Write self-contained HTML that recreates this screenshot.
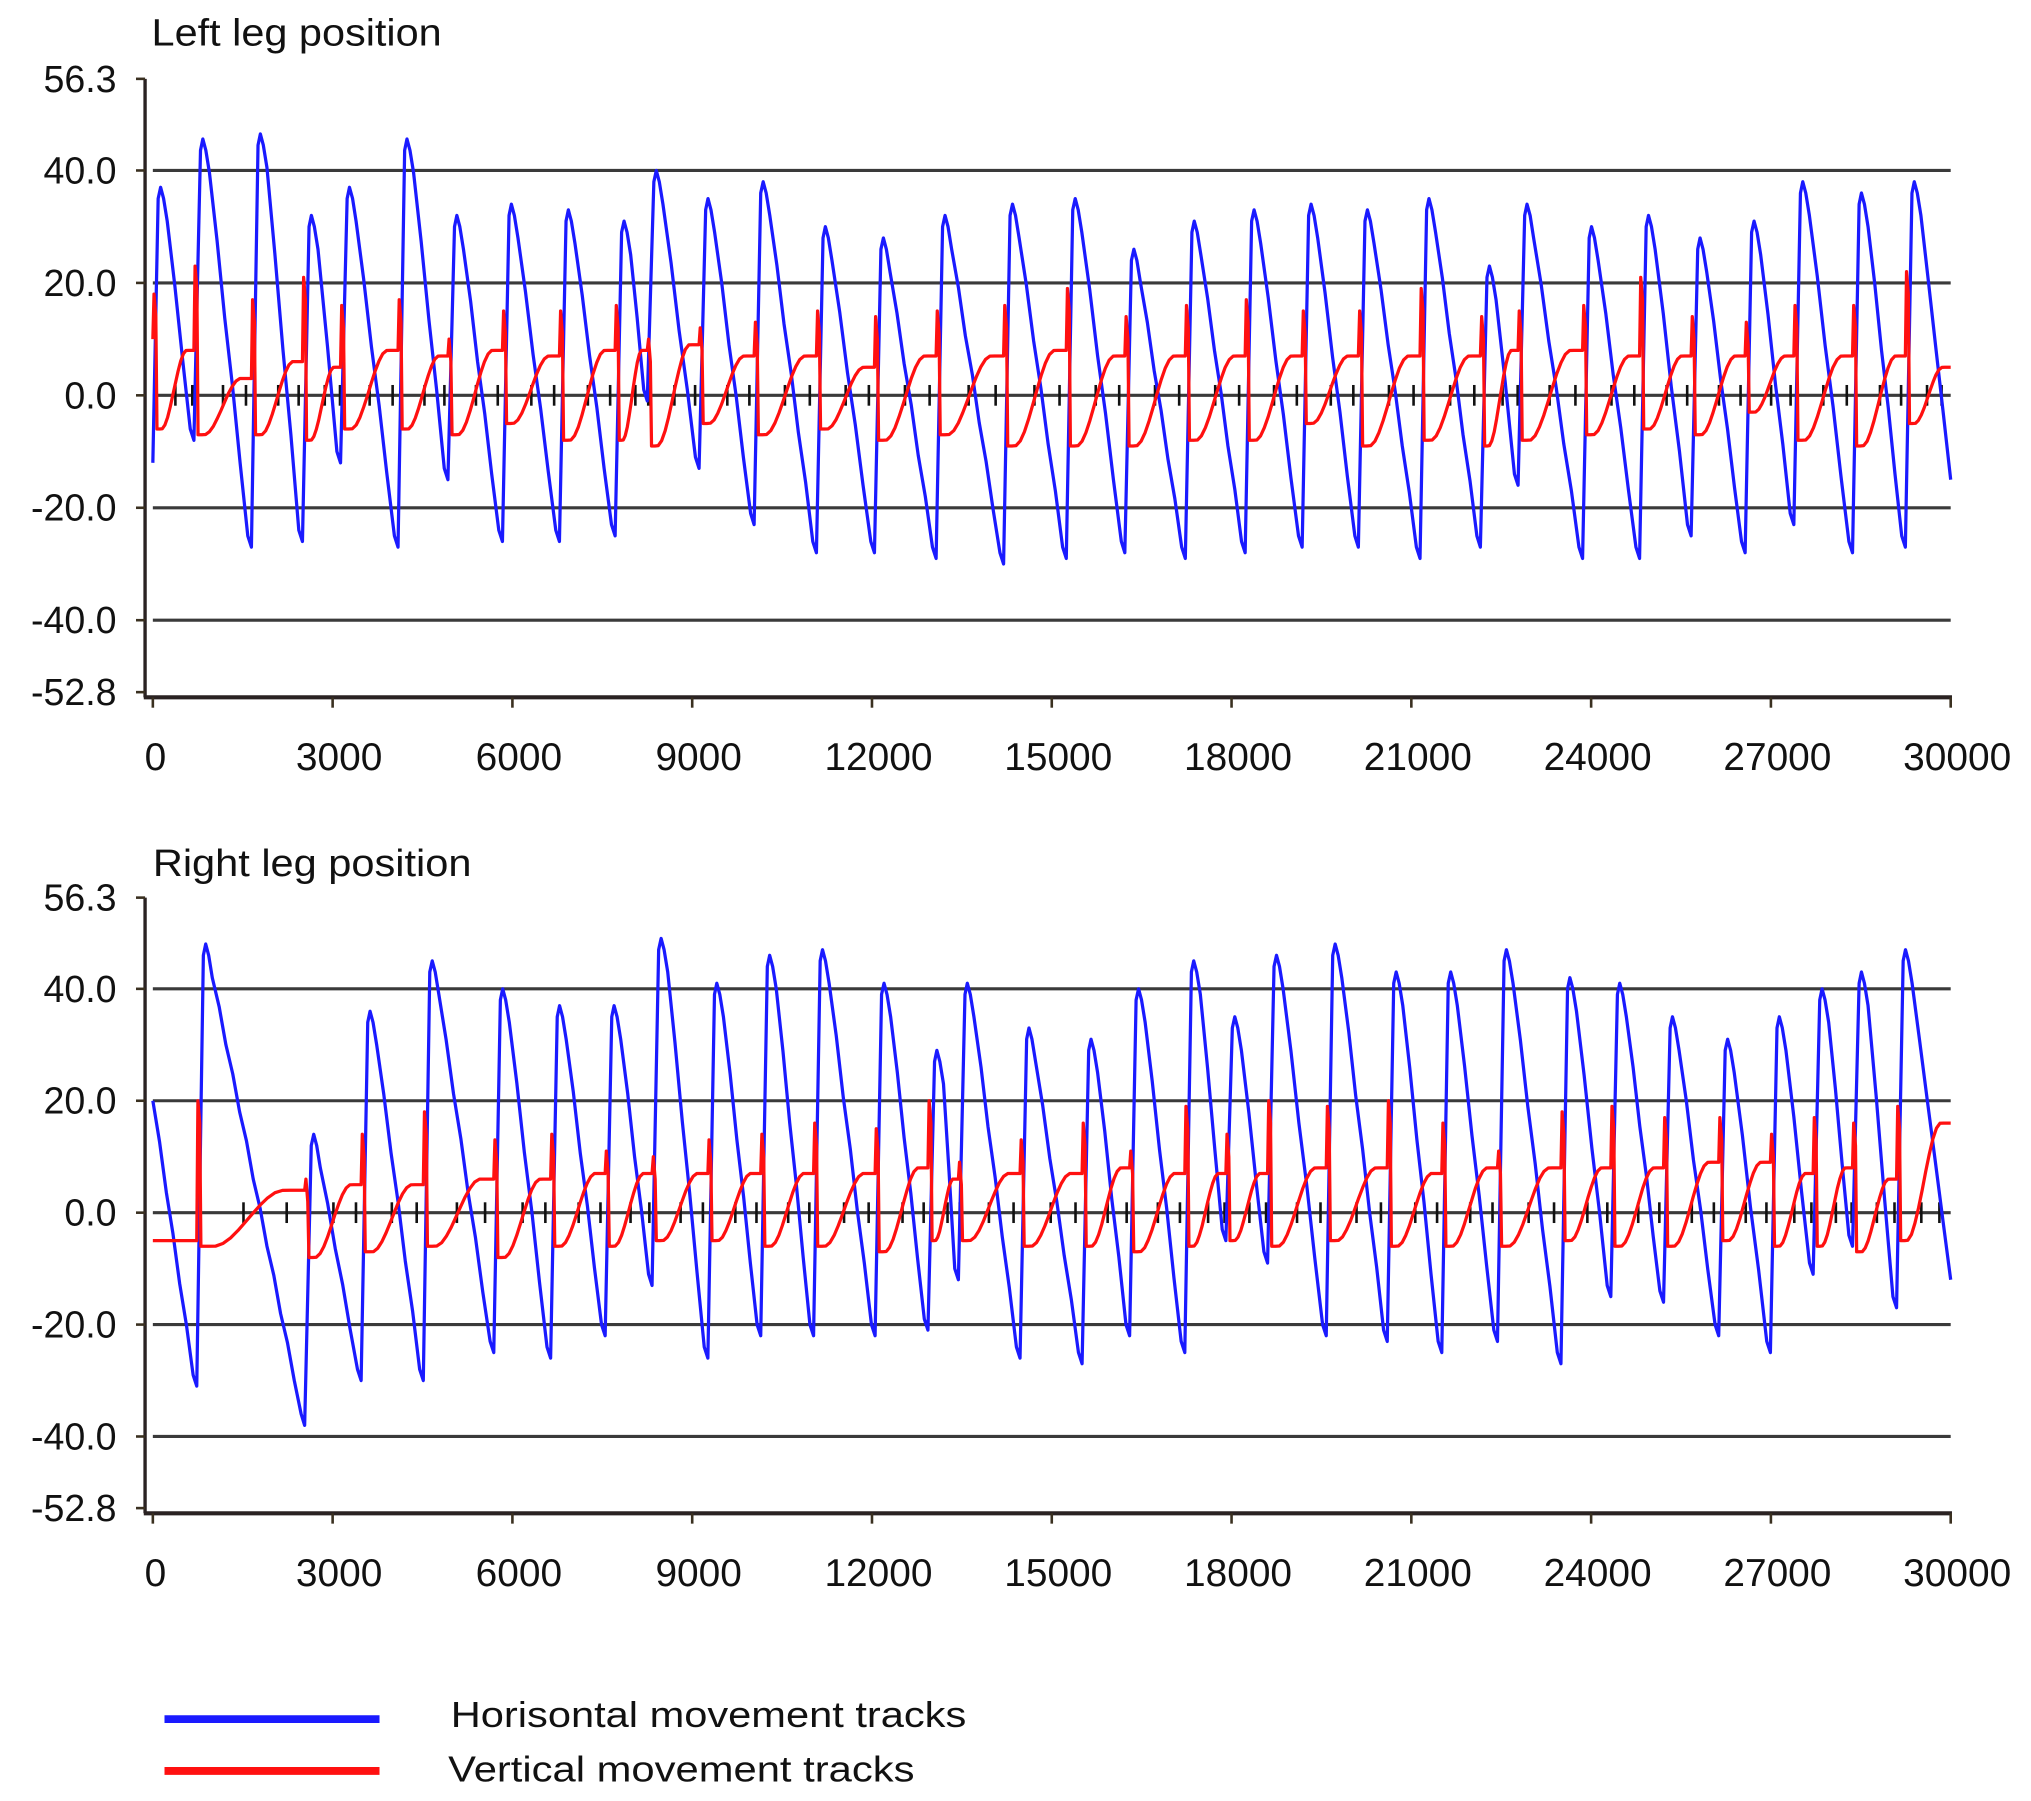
<!DOCTYPE html>
<html><head><meta charset="utf-8"><style>
html,body{margin:0;padding:0;background:#fff;}
svg{display:block;}
text{font-family:"Liberation Sans",Arial,sans-serif;fill:#111;}
</style></head><body>
<svg id="fig" width="2031" height="1801" viewBox="0 0 1568 1390" xmlns="http://www.w3.org/2000/svg">
<g id="legend">
 <line x1="127" y1="1327" x2="293" y2="1327" stroke="#1a1aff" stroke-width="6"/>
 <text x="348" y="1333" font-size="28" textLength="398" lengthAdjust="spacingAndGlyphs">Horisontal movement tracks</text>
 <line x1="127" y1="1367" x2="293" y2="1367" stroke="#ff1010" stroke-width="6"/>
 <text x="346" y="1375" font-size="28" textLength="360" lengthAdjust="spacingAndGlyphs">Vertical movement tracks</text>
</g>
</svg>
<script>
// ---------- data ----------
const yTickValues = [56.3, 40.0, 20.0, 0.0, -20.0, -40.0, -52.8];
const gridValues = [40, 20, 0, -20, -40];
const xTickValues = [0, 3000, 6000, 9000, 12000, 15000, 18000, 21000, 24000, 27000, 30000];

// Left leg
const leftPeakTimes = [129,835,1794,2646,3282,4241,5073,5983,6934,7863,8401,9264,10184,11222,12190,13219,14345,15391,16370,17378,18376,19327,20267,21294,22303,22931,24007,24958,25818,26719,27532,28511,29393];
const leftPeaks = [37,45.6,46.5,32,37,45.6,32,34,33,31,40,35,38,30,28,32,34,35,26,31,33,34,33,35,23,34,30,32,28,31,38,36,38];
const leftTroughs = [-12,-8,-27,-26,-12,-27,-15,-26,-26,-25,-1,-13,-23,-28,-28,-29,-30,-29,-28,-29,-28,-27,-27,-29,-27,-16,-29,-29,-25,-28,-23,-28,-27];
const leftStart = -12;
const leftEnd = -15;
const leftRedSpike = [18,23,17,21,16,17,10,15,15,16,10,12,13,15,14,15,16,19,14,16,17,15,15,19,14,15,16,21,14,13,16,16,22];
const leftRedLow = [-6,-7,-7,-8,-6,-6,-7,-5,-8,-8,-9,-5,-7,-6,-8,-7,-9,-9,-9,-8,-8,-5,-9,-8,-9,-8,-7,-6,-7,-3,-8,-9,-5];
const leftRedHigh = [8,3,6,5,8,7,8,7,8,8,9,7,7,5,7,7,8,7,7,7,7,7,7,7,8,8,7,7,7,7,7,7,6];
const leftRedStart = 10;
const leftRedEnd = 5;

// Right leg
const rightPeakTimes = [882,2684,3625,4662,5838,6787,7697,8481,9411,10293,11175,12201,13083,13591,14620,15655,16448,17369,18054,18750,19729,20747,21657,22587,23646,24478,25358,26278,27141,27854,28511,29246];
const rightPeaks = [48,14,36,45,40,37,37,49,41,46,47,41,29,41,33,31,40,45,35,46,48,43,43,47,42,41,35,31,35,40,43,47];
const rightTroughs = [-31,-38,-30,-30,-25,-26,-22,-13,-26,-22,-22,-22,-21,-12,-26,-27,-22,-25,-5,-9,-22,-23,-25,-23,-27,-15,-16,-22,-25,-11,-6,-17];
const rightStart = 20;
const rightEnd = -12;
const rightRedSpike = [20,6,14,18,13,14,11,10,13,14,16,15,20,9,13,16,11,19,14,20,19,20,16,11,18,19,17,17,14,17,16,19];
const rightRedLow = [-6,-8,-7,-6,-8,-6,-6,-5,-5,-6,-6,-7,-5,-5,-6,-6,-7,-6,-5,-6,-5,-6,-6,-6,-5,-6,-6,-5,-6,-6,-7,-5];
const rightRedHigh = [4,5,5,6,6,7,7,7,7,7,7,8,6,7,7,8,7,7,7,8,8,7,8,8,8,8,9,9,7,8,6,6];
const rightRedStart = -5;
const rightRedEnd = 16;

// ---------- rendering ----------
const NS = "http://www.w3.org/2000/svg";
const svg = document.getElementById("fig");
function mk(tag, attrs, parent) {
  const e = document.createElementNS(NS, tag);
  for (const k in attrs) e.setAttribute(k, attrs[k]);
  (parent || svg).appendChild(e);
  return e;
}
const X0 = 118, X1 = 1506, TMAX = 30000;
function xScale(t) { return X0 + t / TMAX * (X1 - X0); }

function drawChart(cfg) {
  const g = mk("g", {});
  
  
  const yS = v => cfg.zeroY - v * cfg.k;
  const title = mk("text", {x: cfg.titleX, y: cfg.titleY, "font-size": 29, textLength: cfg.titleLen, lengthAdjust: "spacingAndGlyphs"}, g);
  title.textContent = cfg.title;
  
  
  gridValues.forEach(v => {
    const l = mk("line", {x1: X0, x2: X1, y1: yS(v), y2: yS(v), stroke: "#3a3a3a", "stroke-width": 2.4}, g);
    
    
  });
  const axTop = yS(56.3), axBot = yS(-52.8) + 4;
  const ya = mk("line", {x1: 112, x2: 112, y1: axTop, y2: axBot, stroke: "#2a2222", "stroke-width": 2.6}, g);
  
  
  const xa = mk("line", {x1: 111, x2: X1 + 1, y1: axBot, y2: axBot, stroke: "#2a2222", "stroke-width": 3.2}, g);
  
  
  yTickValues.forEach(v => {
    const yy = (v === -52.8) ? axBot - 4 : yS(v);
    mk("line", {x1: 105, x2: 112, y1: yy, y2: yy, stroke: "#3a3020", "stroke-width": 2}, g);
    const t = mk("text", {x: 90, y: yy + 10, "font-size": 29, "text-anchor": "end"}, g);
    t.textContent = v.toFixed(1);
    
    
  });
  xTickValues.forEach(v => {
    const xx = xScale(v);
    mk("line", {x1: xx, x2: xx, y1: axBot, y2: axBot + 8, stroke: "#3a3020", "stroke-width": 2}, g);
    const t = mk("text", {x: xx + (v === 0 ? 2 : 5), y: axBot + 56, "font-size": 30, "text-anchor": "middle"}, g);
    t.textContent = String(v);
    
    
  });
  const P = cfg.peakTimes;
  for (let i = 0; i < P.length; i++) {
    const next = i + 1 < P.length ? P[i + 1] : TMAX;
    [0.35, 0.75].forEach(f => {
      const tt = P[i] + (next - P[i]) * f;
      if (tt >= TMAX) return;
      const m = mk("line", {x1: xScale(tt), x2: xScale(tt), y1: yS(0) - 8, y2: yS(0) + 8, stroke: "#111", "stroke-width": 2}, g);
      
      
    });
  }
  // blue series
  const RISE = 150;
  let pts = [];
  let prevT = 0, prevV = cfg.start;
  pts.push([0, cfg.start]);
  for (let i = 0; i < P.length; i++) {
    const tTr = Math.max(P[i] - RISE, 0);
    if (i > 0 || cfg.start > cfg.troughs[0] + 5) {
      const n = Math.max(2, Math.floor((tTr - 60 - prevT) / 110));
      for (let j = 1; j < n; j++) {
        const f = j / n;
        const wig = (j % 2 === 0) ? 0 : 0.8;
        pts.push([prevT + (tTr - 60 - prevT) * f, prevV + (cfg.troughs[i] + 2 - prevV) * f + wig]);
      }
      pts.push([tTr - 60, cfg.troughs[i] + 2]);
    }
    pts.push([tTr, cfg.troughs[i]]);
    pts.push([P[i] - 40, cfg.peaks[i] - 2]);
    pts.push([P[i], cfg.peaks[i]]);
    pts.push([P[i] + 50, cfg.peaks[i] - 2]);
    pts.push([P[i] + 110, cfg.peaks[i] - 6]);
    prevT = P[i] + 110; prevV = cfg.peaks[i] - 6;
  }
  {
    const n = Math.max(2, Math.floor((TMAX - prevT) / 110));
    for (let j = 1; j <= n; j++) {
      const f = j / n;
      pts.push([prevT + (TMAX - prevT) * f, prevV + (cfg.end - prevV) * f]);
    }
  }
  const blue = mk("polyline", {points: pts.map(p => xScale(p[0]).toFixed(1) + "," + yS(p[1]).toFixed(1)).join(" "),
    fill: "none", stroke: "#1a1aff", "stroke-width": 2.5, "stroke-linejoin": "round"}, g);
  
  
  // red series
  let rp = [[0, cfg.redStart]];
  let lastHigh = cfg.redStart;
  for (let i = 0; i < P.length; i++) {
    const tS = Math.max(P[i] - RISE, 0);
    const next = i + 1 < P.length ? P[i + 1] - RISE : TMAX;
    rp.push([tS, lastHigh]);
    rp.push([tS + 20, cfg.redSpike[i]]);
    rp.push([tS + 50, cfg.redSpike[i] - 4]);
    rp.push([tS + 70, cfg.redLow[i]]);
    const dur = next - tS - 70;
    const hi = (i + 1 < P.length) ? cfg.redHigh[i] : cfg.redEnd;
    for (let j = 1; j <= 14; j++) {
      const f = j / 14;
      let s = f < 0.12 ? 0 : Math.min(1, (f - 0.12) / 0.68);
      s = s * s * (3 - 2 * s);
      rp.push([tS + 70 + dur * f, cfg.redLow[i] + (hi - cfg.redLow[i]) * s]);
    }
    lastHigh = hi;
  }
  const red = mk("polyline", {points: rp.map(p => xScale(Math.min(p[0], TMAX)).toFixed(1) + "," + yS(p[1]).toFixed(1)).join(" "),
    fill: "none", stroke: "#ff1010", "stroke-width": 2.5, "stroke-linejoin": "round"}, g);
  
  
}

drawChart({name: "left-leg-chart", title: "Left leg position", titleX: 117, titleY: 35, titleLen: 224, zeroY: 305, k: 4.34,
  peakTimes: leftPeakTimes, peaks: leftPeaks, troughs: leftTroughs, start: leftStart, end: leftEnd,
  redSpike: leftRedSpike, redLow: leftRedLow, redHigh: leftRedHigh, redStart: leftRedStart, redEnd: leftRedEnd});
drawChart({name: "right-leg-chart", title: "Right leg position", titleX: 118, titleY: 676, titleLen: 246, zeroY: 936, k: 4.32,
  peakTimes: rightPeakTimes, peaks: rightPeaks, troughs: rightTroughs, start: rightStart, end: rightEnd,
  redSpike: rightRedSpike, redLow: rightRedLow, redHigh: rightRedHigh, redStart: rightRedStart, redEnd: rightRedEnd});
</script>
</body></html>
